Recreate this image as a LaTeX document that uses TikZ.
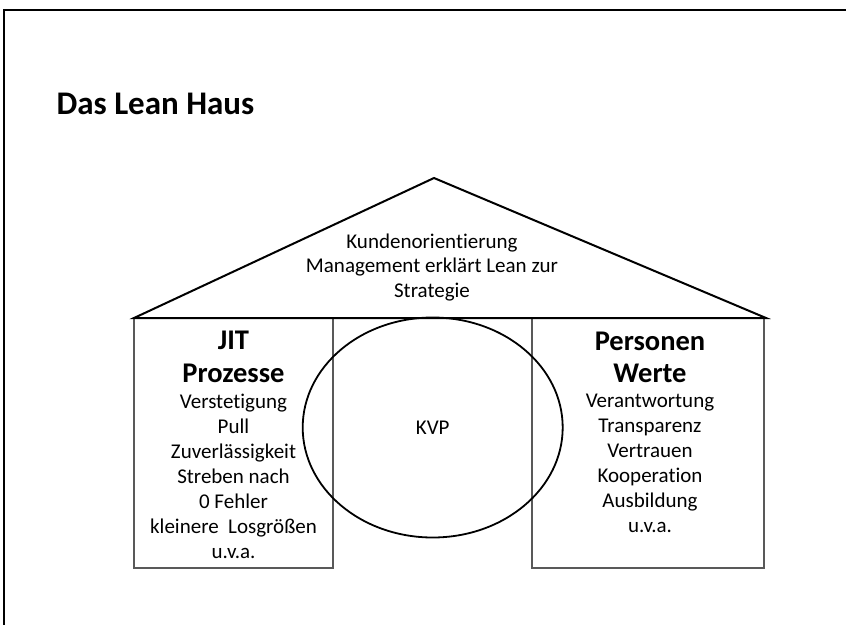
\documentclass[tikz,border=0pt]{standalone}
\usepackage{fontspec}
\setmainfont{Carlito}[Ligatures=NoCommon]
\usetikzlibrary{positioning,shapes}
\tikzset{>=stealth}
\tikzset{
  roofline/.style={line width=2pt},
  pillar/.style={draw=black!65, line width=1.3pt},
  txt/.style={anchor=base, font=\fontsize{21}{24}\selectfont},
  head/.style={anchor=base, font=\fontsize{28.5}{34}\selectfont\bfseries},
}

\begin{document}
\begin{tikzpicture}[x=1pt,y=-1pt]
				\useasboundingbox (0,0) rectangle (846,624);
				\draw [line width=2pt] (4,626) -- (4,10) -- (846,10);
				\draw (53,114) node (title) [head, anchor=base west, font=\fontsize{33}{38}\selectfont\bfseries] {Das Lean Haus};

				% Saeulen
				\draw [pillar] (134,318) rectangle (333,568);
				\draw [pillar] (532,318) rectangle (764,568);

				% Dach
				\coordinate (apex) at (434,178);
				\coordinate (eaveL) at (134,318);
				\coordinate (eaveR) at (766,318);
				\draw [roofline] (eaveL) -- (apex) -- (eaveR) -- cycle;
				\draw (432,248) node (roof1) [txt] {Kundenorientierung};
				\draw (432,272.5) node (roof2) [txt] {Management erklärt Lean zur};
				\draw (432,297) node (roof3) [txt] {Strategie};

				% KVP
				\draw (432.7,427.5) node (kvp) [ellipse, draw, line width=1.8pt, minimum width=260pt, minimum height=220pt, inner sep=0pt, font=\fontsize{21}{24}\selectfont] {KVP};

				% linke Saeule
				\draw (233.5,349) node (jit) [head] {JIT};
				\draw (233.5,382) node (proz) [head] {Prozesse};
				\foreach \t [count=\i from 0] in {Verstetigung,Pull,Zuverlässigkeit,Streben nach,0 Fehler,kleinere\ \ Losgrößen,u.v.a.}
					\draw (233.5,408+25*\i) node (l\i) [txt] {\t};

				% rechte Saeule
				\draw (650,350) node (pers) [head] {Personen};
				\draw (650,382) node (werte) [head] {Werte};
				\foreach \t [count=\i from 0] in {Verantwortung,Transparenz,Vertrauen,Kooperation,Ausbildung,u.v.a.}
					\draw (650,407+25*\i) node (r\i) [txt] {\t};
			\end{tikzpicture}
\end{document}
